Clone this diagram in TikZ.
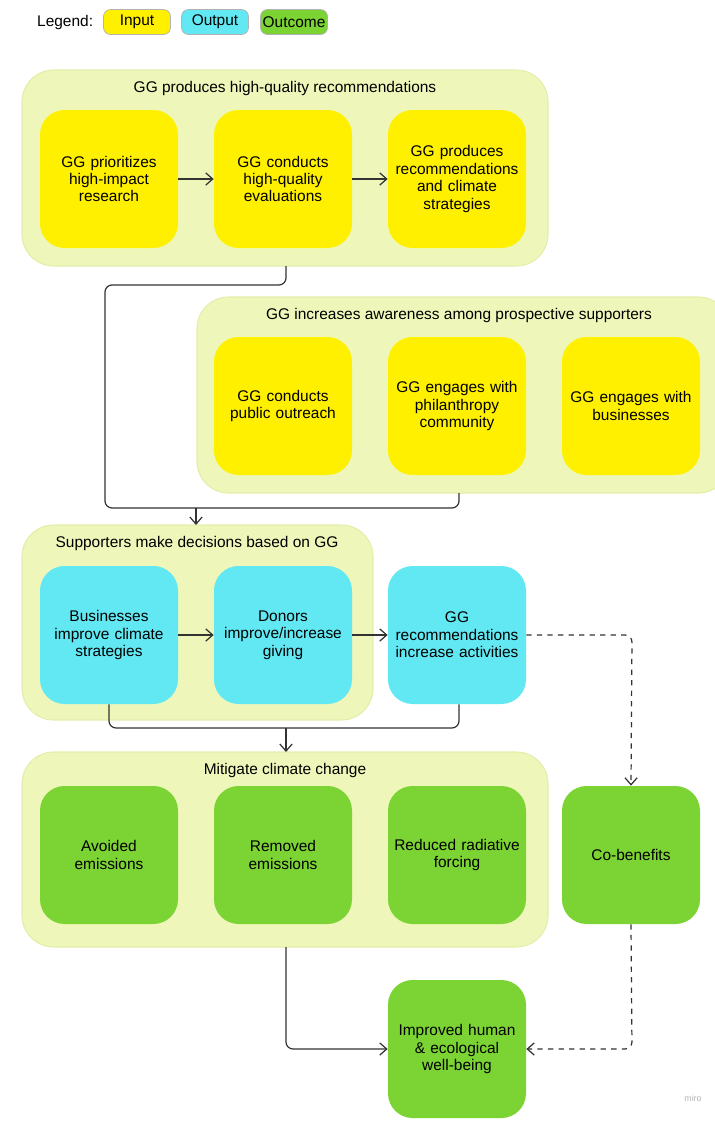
\documentclass[tikz,border=0pt]{standalone}
\usepackage{fontspec}
\setmainfont{Liberation Sans}
\usetikzlibrary{positioning,arrows.meta}
\definecolor{inyellow}{HTML}{FFF000}
\definecolor{outcyan}{HTML}{62E8F2}
\definecolor{okgreen}{HTML}{7BD334}
\definecolor{grpbg}{HTML}{EEF7B9}
\tikzset{
  box/.style={rounded corners=14pt, minimum width=138*0.02cm, minimum height=138*0.02cm,
    text width=134*0.02cm, align=center, font=\fontsize{8.8}{9.9}\selectfont, inner sep=0pt},
  input/.style={box, fill=inyellow},
  output/.style={box, fill=outcyan},
  outcome/.style={box, fill=okgreen},
  group/.style={rounded corners=18pt, fill=grpbg, draw=grpbg!92!olive, line width=0.6pt},
  gtitle/.style={font=\fontsize{8.8}{9.9}\selectfont},
  leg/.style={rounded corners=4pt, minimum width=67*0.02cm, minimum height=25*0.02cm,
    font=\fontsize{8.8}{9.9}\selectfont, inner sep=0pt, draw=black!30},
  link/.style={draw=black!80, line width=0.7pt, -{Straight Barb[length=4pt,width=7pt]}},
  wire/.style={draw=black!80, line width=0.7pt},
  dlink/.style={link, dashed},
}
\begin{document}
\begin{tikzpicture}[x=0.02cm, y=-0.02cm]
  \useasboundingbox (0,0) rectangle (714,1140);

  % Legend
  \node[gtitle, anchor=west] (legend) at (31,22) {Legend:};
  \node[leg, fill=inyellow] (legin) at (137,22) {Input};
  \node[leg, fill=outcyan] (legout) at (215,22) {Output};
  \node[leg, fill=okgreen] (legoc) at (294,22) {Outcome};

  % Groups
  \draw[group] (22,70) rectangle (548,266);
  \draw[group] (197,297) rectangle (730,493);
  \draw[group] (22,525) rectangle (373,720);
  \draw[group] (22,752) rectangle (548,947);
  \node[gtitle] (t1) at (285,88) {GG produces high-quality recommendations};
  \node[gtitle] (t2) at (459,315) {GG increases awareness among prospective supporters};
  \node[gtitle] (t3) at (197,543) {Supporters make decisions based on GG};
  \node[gtitle] (t4) at (285,770) {Mitigate climate change};

  % Inputs
  \node[input] (prio) at (109,179) {GG prioritizes\\high-impact\\research};
  \node[input] (eval) at (283,179) {GG conducts\\high-quality\\evaluations};
  \node[input] (recs) at (457,179) {GG produces\\recommendations\\and climate\\strategies};
  \node[input] (outr) at (283,406) {GG conducts\\public outreach};
  \node[input] (phil) at (457,406) {GG engages with\\philanthropy\\community};
  \node[input] (busi) at (631,406) {GG engages with\\businesses};

  % Outputs
  \node[output] (strat) at (109,635) {Businesses\\improve climate\\strategies};
  \node[output] (donor) at (283,635) {Donors\\improve/increase\\giving};
  \node[output] (act) at (457,635) {GG\\recommendations\\increase activities};

  % Outcomes
  \node[outcome] (avoid) at (109,855) {Avoided\\emissions};
  \node[outcome] (remov) at (283,855) {Removed\\emissions};
  \node[outcome] (force) at (457,855) {Reduced radiative\\forcing};
  \node[outcome] (cobe) at (631,855) {Co-benefits};
  \node[outcome] (well) at (457,1049) {Improved human\\\& ecological\\well-being};

  \coordinate (g1) at (286,266);
  \coordinate (g2) at (459,493);
  \coordinate (g3) at (196,525);
  \coordinate (g4) at (286,752);
  \coordinate (g4b) at (286,947);

  % Connectors
  \draw[link] (prio) -- (eval);
  \draw[link] (eval) -- (recs);
  \draw[link] (strat) -- (donor);
  \draw[link] (donor) -- (act);
  \draw[wire, rounded corners=4pt] (g1) -- (286,285) -- (105,285) -- (105,508) -- (196,508);
  \draw[wire, rounded corners=4pt] (g2) -- (459,508) -- (196,508);
  \draw[link] (196,508) -- (g3);
  \draw[wire, rounded corners=4pt] (strat.south -| 109,0) -- (109,728) -- (286,728);
  \draw[wire, rounded corners=4pt] (act.south -| 459,0) -- (459,728) -- (286,728);
  \draw[link] (286,728) -- (g4);
  \draw[dlink, rounded corners=4pt] (act.east) -- (632,635) -- (cobe.north);
  \draw[dlink, rounded corners=4pt] (cobe.south) -- (632,1049) -- (well.east);
  \draw[link, rounded corners=4pt] (g4b) -- (286,1049) -- (well.west);

  \node[font=\fontsize{5}{6}\selectfont, text=black!30] (miro) at (693,1098) {miro};
\end{tikzpicture}
\end{document}
